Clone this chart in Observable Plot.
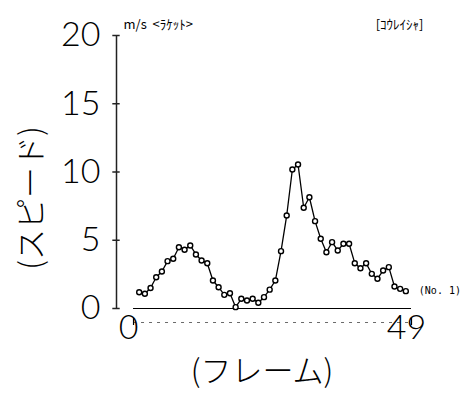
<!DOCTYPE html>
<html><head><meta charset="utf-8">
<script src="https://cdn.jsdelivr.net/npm/d3@7"></script>
<script src="https://cdn.jsdelivr.net/npm/@observablehq/plot@0.6"></script>
<style>
body{margin:0;background:#fff;}
</style>
</head><body><div id="chart"></div>
<script>
const frames = [1,2,3,4,5,6,7,8,9,10,11,12,13,14,15,16,17,18,19,20,21,22,23,24,25,26,27,28,29,30,31,32,33,34,35,36,37,38,39,40,41,42,43,44,45,46,47,48];
const speeds = [1.19,1.08,1.50,2.29,2.71,3.47,3.64,4.49,4.30,4.62,3.96,3.52,3.32,2.05,1.56,1.00,1.12,0.10,0.71,0.59,0.71,0.42,0.83,1.38,2.05,4.20,6.81,10.18,10.55,7.38,8.15,6.40,5.11,4.12,4.86,4.25,4.74,4.74,3.32,2.95,3.32,2.54,2.18,2.78,3.03,1.61,1.44,1.27];
const yTicks = [0,5,10,15,20];
const xTicks = [0,49];
const xDomain = [-3,49];
const unitLabel = "m/s  <ﾗｹｯﾄ>";
const groupLabel = "[ｺｳﾚｲｼｬ]";
const seriesLabel = "(No. 1)";
const xLabel = "(フレーム)";
const yLabel = "(スピード)";

const data = frames.map((f, i) => ({frame: f, speed: speeds[i]}));
const jp = "'Noto Sans CJK JP', sans-serif";
const num = "Lato, 'Liberation Sans', sans-serif";

const chart = Plot.plot({
  width: 466, height: 400,
  marginLeft: 116, marginRight: 55, marginTop: 35, marginBottom: 92,
  style: {background: "white", color: "black"},
  x: {domain: xDomain, axis: null},
  y: {domain: [0, 20], axis: null},
  marks: [
    Plot.ruleX([xDomain[0]], {stroke: "#222", strokeWidth: 1.5}),
    Plot.ruleY(yTicks, {x1: () => xDomain[0] - 0.65, x2: () => xDomain[0] + 0.65, strokeWidth: 1.5, stroke: "#222"}),
    Plot.text(yTicks, {y: d => d, frameAnchor: "left", dx: -16, textAnchor: "end", fontSize: 34, fontFamily: num, fontWeight: 300, ariaLabel: "ytick"}),
    Plot.ruleY([0], {x1: () => xTicks[0], x2: () => xTicks[1], strokeWidth: 1}),
    Plot.ruleY([0], {x1: () => xTicks[0], x2: () => xTicks[1], dy: 14, strokeWidth: 0.8, stroke: "#444", strokeDasharray: "3 5"}),
    Plot.axisX({ticks: xTicks, tickSize: 7, dy: 10, tickFormat: () => "", label: null, strokeWidth: 1.2}),
    Plot.text(xTicks, {x: d => d, frameAnchor: "bottom", dy: 30, dx: -5, fontSize: 34, fontFamily: num, fontWeight: 300, ariaLabel: "xtick"}),
    Plot.line(data, {x: "frame", y: "speed", stroke: "black", strokeWidth: 1.3}),
    Plot.dot(data, {x: "frame", y: "speed", r: 2.5, fill: "white", stroke: "black", strokeWidth: 1.4}),
    Plot.text(data.slice(-1), {x: "frame", y: "speed", text: () => seriesLabel, dx: 13, textAnchor: "start", fontSize: 10, fontFamily: "'DejaVu Sans Mono', monospace"}),
    Plot.text([unitLabel], {frameAnchor: "top-left", dx: 7, dy: -16, textAnchor: "start", fontSize: 13, fontFamily: jp, ariaLabel: "unit"}),
    Plot.text([groupLabel], {frameAnchor: "top-right", dx: 12, dy: -16, textAnchor: "end", fontSize: 13, fontFamily: jp, ariaLabel: "group"}),
    Plot.text([yLabel], {frameAnchor: "left", rotate: -90, dx: -84, dy: 26, textAnchor: "middle", fontSize: 31, fontFamily: jp, fontWeight: 300, ariaLabel: "ylabel"}),
    Plot.text([xLabel], {frameAnchor: "bottom", dx: -2, dy: 73, textAnchor: "middle", fontSize: 31, fontFamily: jp, fontWeight: 300, ariaLabel: "xlabel"})
  ]
});

const svg = d3.select(chart);
function fit(label, widths, adjust) {
  svg.selectAll(`g[aria-label="${label}"] text`).each(function() {
    const w = typeof widths === "number" ? widths : widths[this.textContent];
    if (w) d3.select(this).attr("textLength", w).attr("lengthAdjust", adjust || "spacingAndGlyphs");
  });
}
fit("ytick", {"20": 28, "15": 27, "10": 27, "5": 11, "0": 11});
fit("xtick", {"0": 15, "49": 29});
fit("unit", 102, "spacing");
fit("group", 80, "spacing");
fit("ylabel", 183, "spacing");
fit("xlabel", 122);
document.getElementById("chart").appendChild(chart);
</script>
</body></html>
